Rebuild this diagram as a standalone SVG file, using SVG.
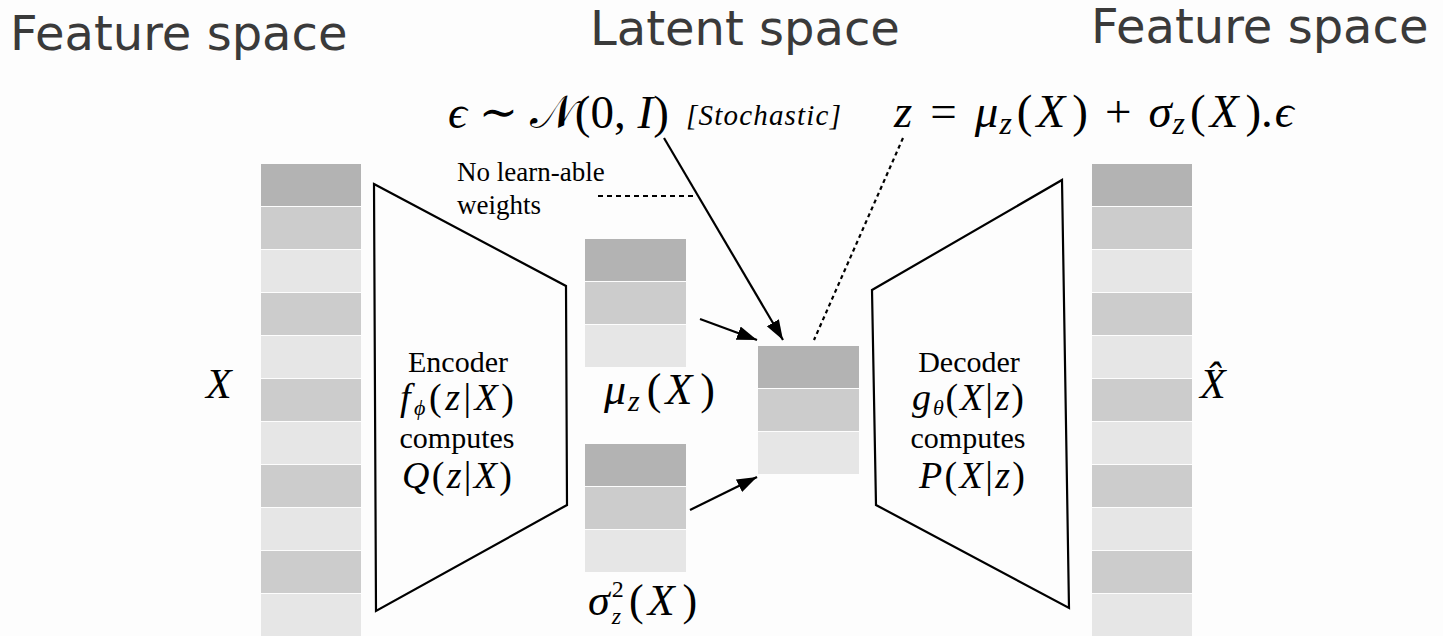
<svg xmlns="http://www.w3.org/2000/svg" xmlns:xlink="http://www.w3.org/1999/xlink" width="1443" height="636" viewBox="0 0 1443 636">
<style>
.d{fill:#b3b3b3}.m{fill:#cccccc}.l{fill:#e6e6e6}
.title{font-family:"DejaVu Sans",sans-serif;font-size:48px;fill:#3a3a3a}
.serif{font-family:"Liberation Serif","DejaVu Serif",serif;fill:#000}
.it{font-style:italic}
.word{font-size:30px}
.math{font-size:38px}
.shape{fill:none;stroke:#000;stroke-width:2.2;stroke-linejoin:miter}
.conn{stroke:#000;stroke-width:2.2;fill:none}
.dash{stroke:#000;stroke-width:2;fill:none;stroke-dasharray:5,4}
.dot{stroke:#000;stroke-width:2.2;fill:none;stroke-dasharray:4,3.5}
</style>
<defs>
<marker id="ah" markerUnits="userSpaceOnUse" markerWidth="22" markerHeight="16" refX="20" refY="7" orient="auto">
<path d="M0,0 L20,7 L0,14 z" fill="#000"/>
</marker>
<g id="box3">
<rect x="0" y="0" width="101" height="42" class="d"/>
<rect x="0" y="43" width="101" height="42" class="m"/>
<rect x="0" y="86" width="101" height="42" class="l"/>
</g>
<g id="col">
<rect x="0" y="0" width="100" height="42" class="d"/>
<rect x="0" y="43" width="100" height="42" class="m"/>
<rect x="0" y="86" width="100" height="42" class="l"/>
<rect x="0" y="129" width="100" height="42" class="m"/>
<rect x="0" y="172" width="100" height="42" class="l"/>
<rect x="0" y="215" width="100" height="42" class="m"/>
<rect x="0" y="258" width="100" height="42" class="l"/>
<rect x="0" y="301" width="100" height="42" class="m"/>
<rect x="0" y="344" width="100" height="42" class="l"/>
<rect x="0" y="387" width="100" height="42" class="m"/>
<rect x="0" y="430" width="100" height="42" class="l"/>
</g>
</defs>
<rect width="1443" height="636" fill="#fdfdfd"/>

<g id="titles">
<text class="title" x="10" y="50">Feature space</text>
<text class="title" x="590" y="45">Latent space</text>
<text class="title" x="1091" y="43">Feature space</text>
</g>

<g id="input">
<use xlink:href="#col" x="261" y="164"/>
<text class="serif it" x="206" y="398" font-size="42">X</text>
</g>

<g id="encoder">
<polygon class="shape" points="374,184 566,286 567,505 376,611"/>
<text class="serif word" text-anchor="middle" x="458" y="372">Encoder</text>
<text class="serif math" text-anchor="middle" x="457" y="410" textLength="114" lengthAdjust="spacing"><tspan class="it">f</tspan><tspan font-size="22" dy="5" class="it">ϕ</tspan><tspan dy="-5">(</tspan><tspan class="it">z</tspan>|<tspan class="it">X</tspan>)</text>
<text class="serif word" text-anchor="middle" x="457" y="448">computes</text>
<text class="serif math" text-anchor="middle" x="457" y="488" textLength="110" lengthAdjust="spacing"><tspan class="it">Q</tspan>(<tspan class="it">z</tspan>|<tspan class="it">X</tspan>)</text>
</g>

<g id="mu">
<use xlink:href="#box3" x="585" y="239"/>
<text class="serif" x="604" y="404" font-size="44"><tspan class="it">μ</tspan><tspan font-size="30" dx="2" dy="7" class="it">z</tspan><tspan dx="7" dy="-7">(</tspan><tspan class="it" dx="4">X</tspan><tspan dx="8">)</tspan></text>
</g>

<g id="sigma">
<use xlink:href="#box3" x="585" y="444"/>
<text class="serif" x="588" y="615" font-size="44"><tspan class="it">σ</tspan><tspan font-size="24" dx="2" dy="-18">2</tspan><tspan font-size="24" dx="-12" dy="27" class="it">z</tspan><tspan dx="8" dy="-9">(</tspan><tspan class="it" dx="4">X</tspan><tspan dx="8">)</tspan></text>
</g>

<g id="z">
<use xlink:href="#box3" x="758" y="346"/>
</g>

<g id="epsilon-label">
<text class="serif" x="448" y="128" font-size="47"><tspan class="it">ϵ</tspan> ∼ 𝒩(0, <tspan class="it">I</tspan>)</text>
<text class="serif it" x="686" y="125" font-size="29" letter-spacing="1.2">[Stochastic]</text>
</g>

<g id="z-label">
<text class="serif" x="894" y="127" font-size="47"><tspan class="it">z</tspan><tspan dx="18">=</tspan><tspan class="it" dx="18">μ</tspan><tspan font-size="32" dx="1" dy="7" class="it">z</tspan><tspan dx="5" dy="-7">(</tspan><tspan class="it" dx="4">X</tspan><tspan dx="7">)</tspan><tspan dx="17">+</tspan><tspan class="it" dx="17">σ</tspan><tspan font-size="32" dx="1" dy="7" class="it">z</tspan><tspan dx="5" dy="-7">(</tspan><tspan class="it" dx="4">X</tspan><tspan dx="7">).</tspan><tspan class="it" dx="2">ϵ</tspan></text>
</g>

<g id="note">
<text class="serif" x="457" y="181" font-size="27">No learn-able</text>
<text class="serif" x="457" y="214" font-size="27">weights</text>
</g>

<g id="decoder">
<polygon class="shape" points="872,290 1062,180 1069,608 876,505"/>
<text class="serif word" text-anchor="middle" x="969" y="372">Decoder</text>
<text class="serif math" text-anchor="middle" x="968" y="410" textLength="112" lengthAdjust="spacing"><tspan class="it">g</tspan><tspan font-size="22" dy="5" class="it">θ</tspan><tspan dy="-5">(</tspan><tspan class="it">X</tspan>|<tspan class="it">z</tspan>)</text>
<text class="serif word" text-anchor="middle" x="968" y="448">computes</text>
<text class="serif math" text-anchor="middle" x="972" y="488" textLength="106" lengthAdjust="spacing"><tspan class="it">P</tspan>(<tspan class="it">X</tspan>|<tspan class="it">z</tspan>)</text>
</g>

<g id="output">
<use xlink:href="#col" x="1092" y="164"/>
<text class="serif it" x="1200" y="398" font-size="42">X̂</text>
</g>

<g id="connectors">
<line class="conn" x1="664" y1="138" x2="783" y2="340" marker-end="url(#ah)"/>
<line class="conn" x1="700" y1="319" x2="757" y2="340" marker-end="url(#ah)"/>
<line class="conn" x1="690" y1="510" x2="757" y2="477" marker-end="url(#ah)"/>
<line class="dot" x1="903" y1="138" x2="814" y2="340"/>
<line class="dash" x1="598" y1="196" x2="697" y2="196"/>
</g>
</svg>
